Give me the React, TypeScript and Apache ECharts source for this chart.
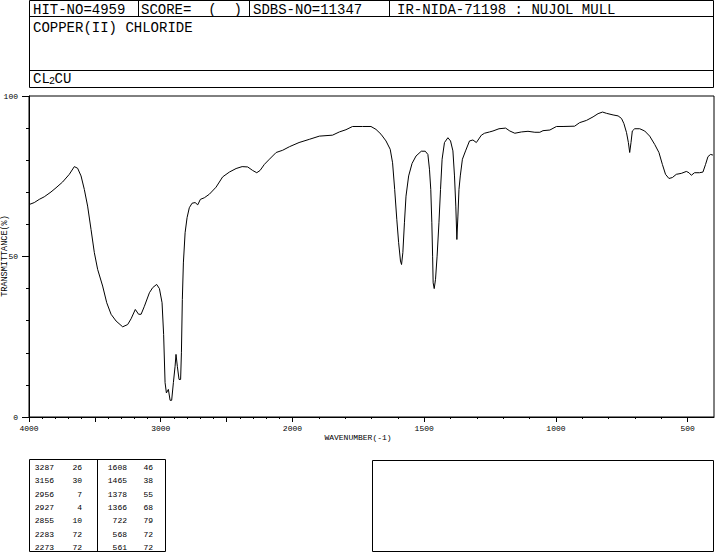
import React, { useEffect, useRef } from "react";
import * as echarts from "echarts";

// Spectrum trace (wavenumber in cm-1, transmittance in %)
const wavenumbers = [
  3998, 3960, 3922, 3884, 3833, 3795, 3745, 3694, 3656, 3631, 3605, 3580, 3555, 3529, 3504, 3479,
  3441, 3410, 3377, 3339, 3289, 3251, 3225, 3193, 3168, 3149, 3124, 3086, 3061, 3031, 3010, 2990,
  2978, 2967, 2957, 2942, 2929, 2917, 2904, 2891, 2884, 2874, 2861, 2849, 2843, 2836, 2828, 2815,
  2800, 2783, 2762, 2739, 2719, 2699, 2669, 2631, 2580, 2530, 2479, 2428, 2382, 2340, 2302, 2271,
  2246, 2213, 2180, 2124, 2074, 2023, 1975, 1936, 1898, 1848, 1822, 1797, 1772, 1734, 1702, 1683,
  1664, 1645, 1629, 1620, 1612, 1604, 1597, 1590, 1586, 1581, 1575, 1569, 1559, 1546, 1531, 1511,
  1496, 1486, 1480, 1475, 1471, 1468, 1466, 1462, 1457, 1451, 1444, 1438, 1432, 1423, 1410, 1400,
  1391, 1385, 1380, 1376, 1372, 1368, 1363, 1355, 1343, 1328, 1315, 1302, 1283, 1271, 1252, 1239,
  1216, 1191, 1175, 1156, 1131, 1106, 1080, 1061, 1049, 1023, 998, 973, 929, 910, 884, 859,
  840, 823, 808, 783, 764, 751, 742, 732, 725, 720, 715, 710, 701, 682, 663, 644,
  625, 609, 596, 584, 571, 558, 543, 524, 505, 495, 486, 474, 455, 442, 432, 423,
  413, 404,
];
const transmittance = [
  66.2, 66.8, 67.8, 68.6, 70.1, 71.4, 73.2, 75.6, 78.0, 77.5, 75.1, 70.9, 65.7, 58.4, 51.2, 46.0,
  40.8, 35.6, 32.0, 29.9, 28.1, 28.8, 30.6, 33.5, 32.0, 32.0, 34.5, 38.7, 40.3, 41.3, 40.0, 35.6,
  25.7, 10.7, 7.5, 8.6, 5.2, 5.2, 10.7, 15.8, 19.5, 15.8, 11.7, 11.7, 20.0, 36.6, 48.0, 57.4,
  62.1, 65.2, 66.6, 66.8, 66.1, 67.8, 68.3, 69.4, 71.6, 74.8, 76.3, 77.4, 78.0, 77.9, 76.8, 76.1,
  76.8, 78.7, 80.1, 82.4, 83.1, 84.2, 85.5, 86.5, 87.5, 87.8, 88.8, 89.5, 90.5, 90.5, 90.5, 89.6,
  88.1, 86.0, 83.4, 79.2, 70.9, 61.6, 54.3, 48.6, 47.5, 51.2, 60.5, 68.8, 75.1, 79.0, 81.3, 82.8,
  82.8, 81.8, 77.2, 70.9, 60.5, 50.1, 41.8, 40.0, 42.9, 50.1, 60.5, 70.9, 80.3, 85.5, 87.0, 86.0,
  82.9, 75.1, 65.7, 55.3, 62.6, 70.9, 75.1, 80.3, 82.9, 86.0, 86.3, 85.5, 87.8, 88.4, 88.8, 89.1,
  89.8, 90.0, 89.1, 88.4, 88.8, 89.0, 88.7, 88.7, 89.2, 89.4, 90.5, 90.5, 90.6, 91.7, 92.4, 93.5,
  94.5, 95.0, 94.6, 94.1, 93.8, 93.0, 91.4, 88.6, 85.5, 82.4, 85.5, 89.1, 89.8, 89.8, 89.1, 87.5,
  84.9, 82.4, 78.7, 75.6, 74.3, 74.6, 75.6, 75.9, 76.5, 76.1, 75.3, 76.1, 76.1, 76.3, 78.7, 81.1,
  81.8, 81.6,
];

// Axis ticks / labels (wavenumbers)
const xLabelWavenumbers = [4000, 3000, 2000, 1500, 1000, 500];
const xMajorTickWavenumbers = [4000, 3500, 3000, 2500, 2000, 1500, 1000, 500];
const xMinorTickWavenumbers = [
  3900, 3800, 3700, 3600, 3400, 3300, 3200, 3100, 2900, 2800, 2700, 2600, 2400, 2300, 2200, 2100,
  1900, 1800, 1700, 1600, 1400, 1300, 1200, 1100, 900, 800, 700, 600,
];

// Peak table
const peaksLeftWavenumber = [3287, 3156, 2956, 2927, 2855, 2283, 2273];
const peaksLeftT = [26, 30, 7, 4, 10, 72, 72];
const peaksRightWavenumber = [1608, 1465, 1378, 1366, 722, 568, 561];
const peaksRightT = [46, 38, 55, 68, 79, 72, 72];

// Header
const headerCells = ["HIT-NO=4959", "SCORE=  (  )", "SDBS-NO=11347", "IR-NIDA-71198 : NUJOL MULL"];
const compoundName = "COPPER(II) CHLORIDE";

// piecewise wavenumber scale: 4000-2000 compressed, 2000-400 expanded x2
const toU = (w: number) => (w >= 2000 ? 4000 - w : 2000 + 2 * (2000 - w));
const fromU = (u: number) => (u <= 2000 ? 4000 - u : 2000 - (u - 2000) / 2);

const MONO = "Liberation Mono, DejaVu Sans Mono, monospace";

export default function App() {
  const ref = useRef<HTMLDivElement>(null);
  useEffect(() => {
    if (!ref.current) return;
    const chart = echarts.init(ref.current, undefined, { renderer: "svg" });

    const data = wavenumbers.map((w, i) => [toU(w), transmittance[i]]);

    const line = (x1: number, y1: number, x2: number, y2: number) => ({
      type: "line",
      shape: { x1, y1, x2, y2 },
      style: { stroke: "#000", lineWidth: 1 },
      silent: true,
    });
    const rect = (x: number, y: number, width: number, height: number) => ({
      type: "rect",
      shape: { x, y, width, height },
      style: { fill: "transparent", stroke: "#000", lineWidth: 1 },
      silent: true,
    });
    const text = (
      t: string,
      x: number,
      y: number,
      size: number,
      align: string = "left",
      extra: any = {}
    ) => ({
      type: "text",
      x,
      y,
      silent: true,
      ...extra,
      style: {
        text: t,
        fill: "#000",
        fontSize: size,
        fontFamily: MONO,
        align,
        textAlign: align,
        verticalAlign: "middle",
        textVerticalAlign: "middle",
      },
    });

    const headerX = [33, 141, 253, 397];
    const graphics: any[] = [
      rect(29.5, 0.5, 684, 87),
      line(29.5, 16.5, 713.5, 16.5),
      line(29.5, 70.5, 713.5, 70.5),
      line(138.5, 0.5, 138.5, 16.5),
      line(249.5, 0.5, 249.5, 16.5),
      line(389.5, 0.5, 389.5, 16.5),
      ...headerCells.map((c, i) => text(c, headerX[i], 10, 14)),
      text(compoundName, 33, 28, 14),
      text("CL", 33, 78.5, 14),
      text("2", 49, 81, 10),
      text("CU", 54.5, 78.5, 14),
      // axis titles
      text("WAVENUMBER(-1)", 358, 437, 8, "center"),
      text("TRANSMITTANCE(%)", 5, 256, 8.5, "center", { rotation: Math.PI / 2 }),
      // peak tables
      rect(29.5, 459.5, 136, 92),
      line(97.5, 459.5, 97.5, 551.5),
      rect(372.5, 460.5, 341, 91),
    ];
    const rowY = (i: number) => 467.5 + i * 13.33;
    peaksLeftWavenumber.forEach((w, i) => {
      graphics.push(text(String(w), 54, rowY(i), 8, "right"));
      graphics.push(text(String(peaksLeftT[i]), 82, rowY(i), 8, "right"));
    });
    peaksRightWavenumber.forEach((w, i) => {
      graphics.push(text(String(w), 127, rowY(i), 8, "right"));
      graphics.push(text(String(peaksRightT[i]), 153, rowY(i), 8, "right"));
    });

    const labelStyle = { color: "#000", fontSize: 8, fontFamily: MONO };

    chart.setOption({
      animation: false,
      backgroundColor: "#fff",
      grid: {
        left: 29,
        top: 96,
        width: 685,
        height: 321,
        show: true,
        borderColor: "#000",
        borderWidth: 1,
        backgroundColor: "transparent",
      },
      xAxis: [
        {
          type: "value",
          min: 0,
          max: 5200,
          interval: 1000,
          position: "bottom",
          axisLine: { show: true, lineStyle: { color: "#000", width: 1 } },
          axisTick: {
            show: true,
            length: 5,
            customValues: xMajorTickWavenumbers.map(toU),
            lineStyle: { color: "#000", width: 1 },
          },
          axisLabel: {
            ...labelStyle,
            margin: 7,
            customValues: xLabelWavenumbers.map(toU),
            formatter: (u: number) => String(Math.round(fromU(u))),
          },
          splitLine: { show: false },
        },
        {
          type: "value",
          min: 0,
          max: 5200,
          interval: 1000,
          position: "bottom",
          axisLine: { show: false },
          axisTick: {
            show: true,
            length: 2,
            customValues: xMinorTickWavenumbers.map(toU),
            lineStyle: { color: "#000", width: 1 },
          },
          axisLabel: { show: false },
          splitLine: { show: false },
        },
      ],
      yAxis: {
        type: "value",
        min: 0,
        max: 100,
        interval: 50,
        axisLine: { show: true, lineStyle: { color: "#000", width: 1 } },
        axisTick: { show: true, length: 7, lineStyle: { color: "#000", width: 1 } },
        minorTick: { show: true, splitNumber: 5, length: 3, lineStyle: { color: "#000", width: 1 } },
        axisLabel: { ...labelStyle, margin: 11 },
        splitLine: { show: false },
        minorSplitLine: { show: false },
      },
      series: [
        {
          type: "line",
          xAxisIndex: 0,
          data,
          showSymbol: false,
          symbol: "none",
          lineStyle: { color: "#000", width: 1 },
          silent: true,
        },
      ],
      graphic: graphics,
    });
    return () => chart.dispose();
  }, []);
  return (
    <div
      ref={ref}
      style={{ position: "absolute", left: 0, top: 0, width: 715, height: 553, background: "#fff" }}
    />
  );
}
